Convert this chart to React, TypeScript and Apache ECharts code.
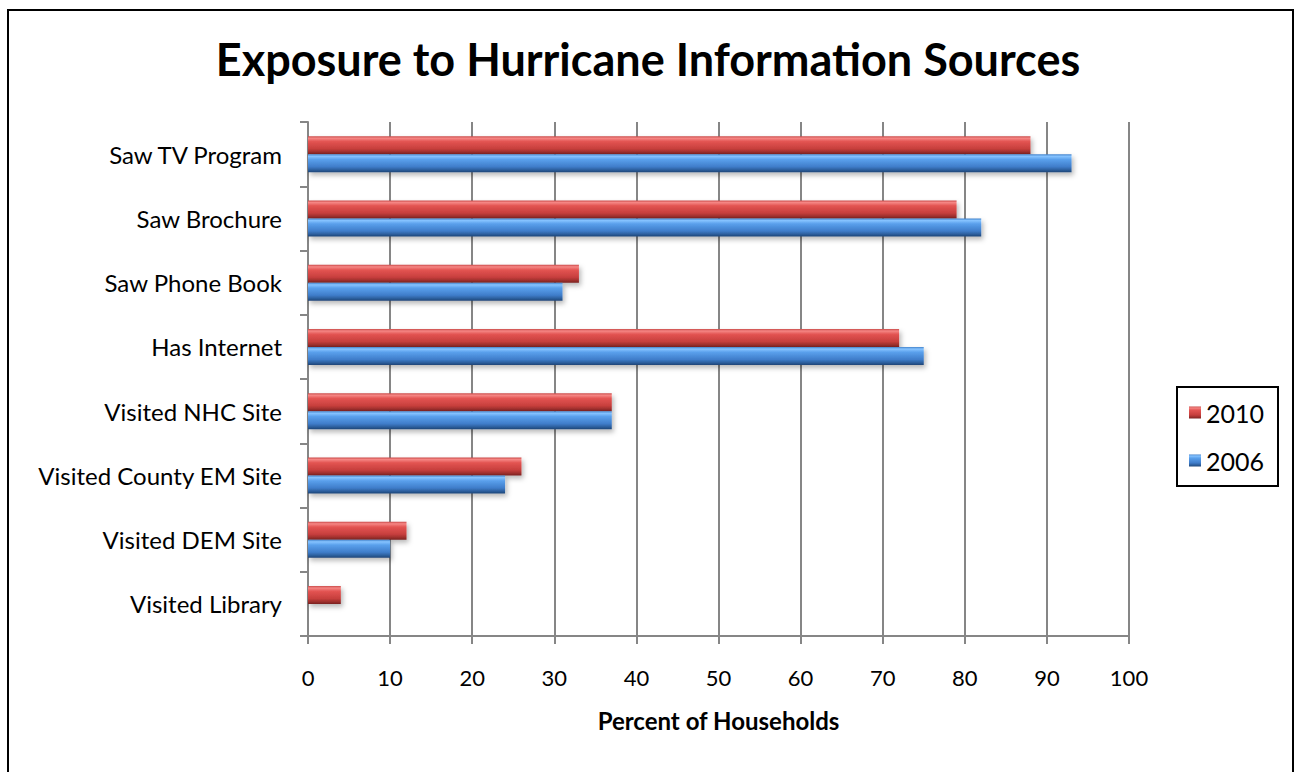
import React, { useEffect, useRef } from "react";
import * as echarts from "echarts";

const categories = [
  "Saw TV Program",
  "Saw Brochure",
  "Saw Phone Book",
  "Has Internet",
  "Visited NHC Site",
  "Visited County EM Site",
  "Visited DEM Site",
  "Visited Library",
];

const values2010 = [88, 79, 33, 72, 37, 26, 12, 4];
const values2006 = [93, 82, 31, 75, 37, 24, 10, 0];

const xTicks = { min: 0, max: 100, interval: 10 };

const FONT = "Lato, 'Liberation Sans', sans-serif";

// bevelled look: a vertical gradient across each bar's thickness
const redFill = new echarts.graphic.LinearGradient(0, 0, 0, 1, [
  { offset: 0, color: "#c84846" },
  { offset: 0.12, color: "#f58684" },
  { offset: 0.3, color: "#e35452" },
  { offset: 0.7, color: "#c73f3d" },
  { offset: 0.88, color: "#9e2f2d" },
  { offset: 1, color: "#7a2221" },
]);
const blueFill = new echarts.graphic.LinearGradient(0, 0, 0, 1, [
  { offset: 0, color: "#3f7fc8" },
  { offset: 0.12, color: "#86c3ff" },
  { offset: 0.3, color: "#5aa0ec" },
  { offset: 0.7, color: "#3f7dca" },
  { offset: 0.88, color: "#2c5e9c" },
  { offset: 1, color: "#1f4678" },
]);

export default function App() {
  const ref = useRef<HTMLDivElement>(null);

  useEffect(() => {
    document.body.style.margin = "0";
    const chart = echarts.init(ref.current!, undefined, { renderer: "svg" });
    const barShadow = {
      shadowBlur: 5,
      shadowColor: "rgba(0,0,0,0.28)",
      shadowOffsetX: 2,
      shadowOffsetY: 3,
    };
    chart.setOption({
      animation: false,
      backgroundColor: "#ffffff",
      title: {
        text: "Exposure to Hurricane Information Sources",
        left: "center",
        top: 31,
        textStyle: { fontFamily: FONT, fontSize: 45, fontWeight: "bold", color: "#000" },
      },
      graphic: [
        {
          type: "rect",
          shape: { x: 8, y: 10, width: 1285, height: 800 },
          style: { fill: "none", stroke: "#000", lineWidth: 2 },
          silent: true,
        },
      ],
      legend: {
        orient: "vertical",
        left: 1177,
        top: 387,
        borderColor: "#000",
        borderWidth: 2,
        padding: [13, 14, 13, 12],
        itemWidth: 12,
        itemHeight: 12,
        itemGap: 23,
        icon: "rect",
        textStyle: { fontFamily: FONT, fontSize: 25, color: "#000" },
        data: ["2010", "2006"],
      },
      grid: { left: 308, right: 167, top: 122, bottom: 136, containLabel: false },
      xAxis: {
        type: "value",
        min: xTicks.min,
        max: xTicks.max,
        interval: xTicks.interval,
        name: "Percent of Households",
        nameLocation: "middle",
        nameGap: 72,
        nameTextStyle: { fontFamily: FONT, fontSize: 24, fontWeight: "bold", color: "#000" },
        axisLine: { show: true, lineStyle: { color: "#868686", width: 2 } },
        axisTick: { show: true, length: 8, lineStyle: { color: "#868686", width: 2 } },
        axisLabel: { fontFamily: FONT, fontSize: 22, color: "#000", margin: 30 },
        splitLine: { show: true, lineStyle: { color: "#868686", width: 2 } },
      },
      yAxis: {
        type: "category",
        inverse: true,
        data: categories,
        axisLine: { show: true, lineStyle: { color: "#868686", width: 2 } },
        axisTick: { show: true, length: 8, lineStyle: { color: "#868686", width: 2 } },
        axisLabel: { fontFamily: FONT, fontSize: 24, color: "#000", margin: 26 },
        splitLine: { show: false },
      },
      series: [
        {
          name: "2010",
          type: "bar",
          data: values2010,
          barWidth: 18,
          barGap: "0%",
          itemStyle: { color: redFill, ...barShadow },
        },
        {
          name: "2006",
          type: "bar",
          data: values2006,
          barWidth: 18,
          barGap: "0%",
          itemStyle: { color: blueFill, ...barShadow },
        },
      ],
    });
    return () => chart.dispose();
  }, []);

  return <div ref={ref} style={{ width: 1296, height: 772 }} />;
}
